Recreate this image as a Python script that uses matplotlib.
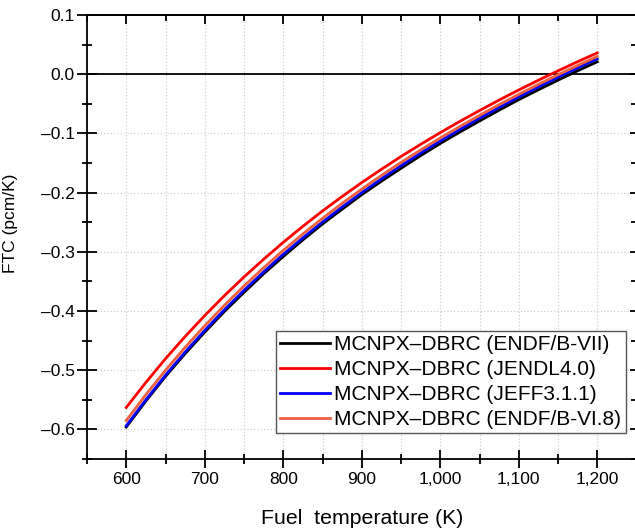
import matplotlib
matplotlib.use("Agg")
import matplotlib.pyplot as plt
from matplotlib.ticker import MultipleLocator, FuncFormatter

plt.rcParams['font.family'] = ['Liberation Sans', 'DejaVu Sans']

temperature = [600, 625, 650, 675, 700, 725, 750, 775, 800, 825, 850, 875, 900,
               925, 950, 975, 1000, 1025, 1050, 1075, 1100, 1125, 1150, 1175, 1200]
endf_b7 = [-0.596, -0.552, -0.5105, -0.472, -0.4357, -0.4008, -0.3686, -0.3372, -0.308,
           -0.2799, -0.253, -0.228, -0.2035, -0.1808, -0.159, -0.1375, -0.117, -0.0977,
           -0.079, -0.0607, -0.043, -0.0263, -0.010, 0.0058, 0.021]
jendl40 = [-0.563, -0.5206, -0.4806, -0.4431, -0.4077, -0.3742, -0.3425, -0.3126, -0.284,
           -0.2569, -0.231, -0.2066, -0.183, -0.1607, -0.139, -0.1185, -0.0987, -0.0797,
           -0.0614, -0.0437, -0.0266, -0.0102, 0.0057, 0.0211, 0.036]
jeff311 = [-0.594, -0.5499, -0.5084, -0.4694, -0.4327, -0.3979, -0.365, -0.3339, -0.3043,
           -0.2764, -0.2498, -0.2243, -0.200, -0.1768, -0.1545, -0.1333, -0.1128, -0.0933,
           -0.0744, -0.0561, -0.0385, -0.0215, -0.0052, 0.0107, 0.026]
endf_b68 = [-0.585, -0.5413, -0.5001, -0.4614, -0.4249, -0.3904, -0.3578, -0.327, -0.2976,
            -0.2699, -0.2435, -0.2182, -0.1941, -0.1711, -0.149, -0.128, -0.1077, -0.0883,
            -0.0695, -0.0514, -0.034, -0.0171, -0.0009, 0.0148, 0.030]

labels = ["MCNPX\u2013DBRC (ENDF/B-VII)", "MCNPX\u2013DBRC (JENDL4.0)",
          "MCNPX\u2013DBRC (JEFF3.1.1)", "MCNPX\u2013DBRC (ENDF/B-VI.8)"]
colors = ["#000000", "#ff0000", "#0000ff", "#ee6040"]
series = [endf_b7, jendl40, jeff311, endf_b68]

fig = plt.figure(figsize=(6.35, 5.28), dpi=100)
ax = fig.add_axes([87 / 635, 69 / 528, 549.5 / 635, 444 / 528])

ax.set_xlim(550, 1250)
ax.set_ylim(-0.65, 0.1)

# grid
for xv in range(600, 1251, 50):
    ax.axvline(xv, color="#c8c8c8", lw=0.8, ls=(0, (1, 2)), zorder=0)
for yv in [-0.6, -0.5, -0.4, -0.3, -0.2, -0.1]:
    ax.axhline(yv, color="#c8c8c8", lw=0.8, ls=(0, (1, 2)), zorder=0)

ax.axhline(0.0, color="black", lw=1.3, zorder=1)

for ys, c, lab in zip(series, colors, labels):
    ax.plot(temperature, ys, color=c, lw=2.0, label=lab, zorder=3)

ax.xaxis.set_major_locator(MultipleLocator(100))
ax.xaxis.set_minor_locator(MultipleLocator(50))
ax.yaxis.set_major_locator(MultipleLocator(0.1))
ax.yaxis.set_minor_locator(MultipleLocator(0.05))
ax.xaxis.set_major_formatter(FuncFormatter(lambda v, p: f"{int(round(v)):,}"))
ax.yaxis.set_major_formatter(FuncFormatter(
    lambda v, p: f"{v:.1f}".replace("-", "\u2013") if abs(v) > 1e-9 else "0.0"))

for s in ax.spines.values():
    s.set_linewidth(1.3)

ax.tick_params(axis='x', which='major', direction='inout', length=12.5, width=1.3,
               labelsize=12.5, top=False, right=False, pad=3)
ax.tick_params(axis='y', which='major', direction='inout', length=14, width=1.3,
               labelsize=12.5, top=False, right=False, pad=2)
ax.tick_params(axis='both', which='minor', direction='inout', length=6.5, width=1.3,
               top=False, right=False)

# top and right inward ticks via secondary axes
sec_x = ax.secondary_xaxis('top')
sec_x.xaxis.set_major_locator(MultipleLocator(100))
sec_x.xaxis.set_minor_locator(MultipleLocator(50))
sec_x.tick_params(which='major', direction='in', length=6.5, width=1.3, labeltop=False)
sec_x.tick_params(which='minor', direction='in', length=4, width=1.3)
sec_x.spines['top'].set_linewidth(1.3)
sec_y = ax.secondary_yaxis('right')
sec_y.yaxis.set_major_locator(MultipleLocator(0.1))
sec_y.yaxis.set_minor_locator(MultipleLocator(0.05))
sec_y.tick_params(which='major', direction='in', length=5, width=1.3, labelright=False)
sec_y.tick_params(which='minor', direction='in', length=4, width=1.3)

ax.set_xlabel("Fuel  temperature (K)", fontsize=15.3, labelpad=16)
ax.set_ylabel("FTC (pcm/K)", fontsize=12.5, labelpad=6)
ax.yaxis.set_label_coords(-0.125, 0.53)

leg = ax.legend(loc='lower right', bbox_to_anchor=(0.980, 0.0586), fontsize=15,
                frameon=True, fancybox=False, edgecolor="#555555", framealpha=1,
                handlelength=2.4, handletextpad=0.2, borderpad=0.2, labelspacing=0.28,
                borderaxespad=0)
leg.get_frame().set_linewidth(1.0)
leg.set_zorder(5)

fig.savefig("out.png", dpi=100)
